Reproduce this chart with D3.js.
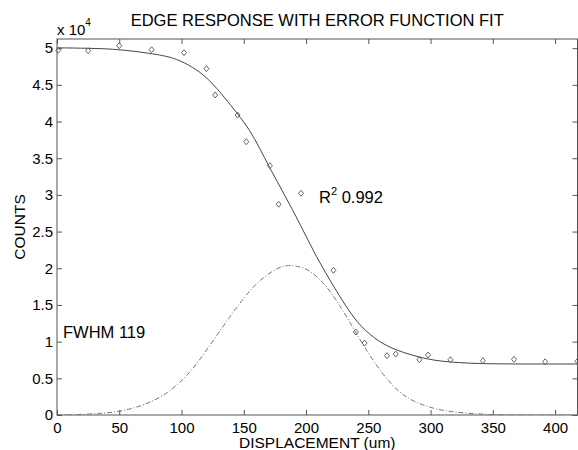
<!DOCTYPE html>
<html>
<head>
<meta charset="utf-8">
<script src="https://cdn.jsdelivr.net/npm/d3@7"></script>
<style>
    body { margin: 0; background: #fff; }
    text { font-family: "Liberation Sans", Arial, sans-serif; fill: #000; }
</style>
</head>
<body>
<div id="output"></div>
<script>
// Edge response data with erf fit and its derivative (gaussian)

// measured points (displacement um, counts)
var pointX = [1, 25, 50, 76, 102, 120, 127, 145, 152, 171, 178, 196, 222, 240, 247, 265, 272, 291, 298, 316, 342, 367, 392, 418]
var pointY = [49700, 49650, 50340, 49790, 49380, 47200, 43620, 40890, 37250, 33980, 28720, 30220, 19720, 11310, 9810, 8080, 8310, 7540, 8180, 7540, 7400, 7590, 7260, 7320]

// error function fit
var fitX = [0, 25, 50, 83, 96, 109, 120, 131, 145, 155, 163, 170, 182, 195, 208, 223, 238, 251, 267, 289, 307, 339, 370, 418]
var fitY = [50050, 49990, 49870, 49110, 48560, 47430, 46070, 44030, 41070, 38810, 36300, 33940, 30220, 26130, 21580, 17270, 13180, 10900, 9090, 7950, 7270, 6980, 6950, 6950]

// gaussian (derivative of fit)
var gaussX = [0, 27, 51, 67, 83, 99, 112, 125, 139, 150, 160, 174, 184, 194, 203, 216, 227, 238, 249, 262, 275, 289, 305, 320, 345, 370, 418]
var gaussY = [0, 95, 450, 1190, 2320, 4360, 6860, 10050, 13450, 15950, 17990, 19800, 20490, 20270, 19760, 17720, 14990, 11820, 8630, 5450, 2960, 1600, 750, 350, 50, 0, 0]

var xTicks = [0, 50, 100, 150, 200, 250, 300, 350, 400]
var yTicks = [0, 5000, 10000, 15000, 20000, 25000, 30000, 35000, 40000, 45000, 50000]

var titleText = 'EDGE RESPONSE WITH ERROR FUNCTION FIT'
var xLabel = 'DISPLACEMENT (um)'
var yLabel = 'COUNTS'
var r2Text = '0.992'
var fwhmText = 'FWHM 119'

var width = 578
var height = 450
var margin = {top: 39, right: 0.5, bottom: 35, left: 57}
var plotW = width - margin.left - margin.right
var plotH = height - margin.top - margin.bottom

var x = d3.scaleLinear().domain([0, 418]).range([0, plotW])
var y = d3.scaleLinear().domain([0, 51250]).range([plotH, 0])

var svg = d3.select('#output').append('svg')
    .attr('width', width)
    .attr('height', height)

svg.append('defs').append('clipPath')
    .attr('id', 'clip')
    .append('rect')
    .attr('width', plotW)
    .attr('height', plotH)

var g = svg.append('g')
    .attr('transform', 'translate(' + margin.left + ',' + margin.top + ')')

var axisColor = '#555'

// axes, ticks pointing inward like matlab
var xAxis = g.append('g')
    .attr('transform', 'translate(0,' + plotH + ')')
    .call(d3.axisBottom(x).tickValues(xTicks).tickSizeInner(-5).tickSizeOuter(0).tickPadding(7))
var xTop = g.append('g')
    .call(d3.axisTop(x).tickValues(xTicks).tickSizeInner(-5).tickSizeOuter(0).tickFormat(''))
var yAxis = g.append('g')
    .call(d3.axisLeft(y).tickValues(yTicks).tickSizeInner(-5).tickSizeOuter(0).tickPadding(4)
        .tickFormat(function(d) { return String(d / 10000) }))
var yRight = g.append('g')
    .attr('transform', 'translate(' + plotW + ',0)')
    .call(d3.axisRight(y).tickValues(yTicks).tickSizeInner(-5).tickSizeOuter(0).tickFormat(''))

g.selectAll('.domain').remove()
g.selectAll('.tick line').attr('stroke', axisColor)
g.selectAll('.tick text')
    .style('font-family', '"Liberation Sans", Arial, sans-serif')
    .style('font-size', '15px')
    .attr('fill', '#000')

g.append('rect')
    .attr('width', plotW)
    .attr('height', plotH)
    .attr('fill', 'none')
    .attr('stroke', axisColor)
    .attr('stroke-width', 1)

var plot = g.append('g').attr('clip-path', 'url(#clip)')

// gaussian, dash-dot
var gaussLine = d3.line()
    .x(function(d, i) { return x(gaussX[i]) })
    .y(function(d, i) { return y(gaussY[i]) })
    .curve(d3.curveBasis)
plot.append('path')
    .attr('d', gaussLine(gaussX))
    .attr('fill', 'none')
    .attr('stroke', '#777')
    .attr('stroke-width', 1)
    .attr('stroke-dasharray', '5,2,1,2')

// erf fit, solid
var fitLine = d3.line()
    .x(function(d, i) { return x(fitX[i]) })
    .y(function(d, i) { return y(fitY[i]) })
    .curve(d3.curveBasis)
plot.append('path')
    .attr('d', fitLine(fitX))
    .attr('fill', 'none')
    .attr('stroke', '#444')
    .attr('stroke-width', 1)

// data points as small diamonds
g.selectAll('.pt')
    .data(pointX)
    .enter().append('path')
    .attr('class', 'pt')
    .attr('transform', function(d, i) { return 'translate(' + x(d) + ',' + y(pointY[i]) + ')' })
    .attr('d', 'M0,-3L2.5,0L0,3L-2.5,0Z')
    .attr('fill', 'none')
    .attr('stroke', '#666')
    .attr('stroke-width', 1)

// title and labels
svg.append('text')
    .attr('x', margin.left + plotW / 2)
    .attr('y', 26)
    .attr('text-anchor', 'middle')
    .style('font-size', '16.5px')
    .text(titleText)

var expo = svg.append('text')
    .attr('x', 57)
    .attr('y', 35)
    .style('font-size', '15px')
expo.append('tspan').text('x 10')
expo.append('tspan').attr('dy', -9).style('font-size', '10px').text('4')

svg.append('text')
    .attr('x', margin.left + plotW / 2)
    .attr('y', 448)
    .attr('text-anchor', 'middle')
    .style('font-size', '15.5px')
    .text(xLabel)

svg.append('text')
    .attr('transform', 'translate(25,' + (margin.top + plotH / 2) + ') rotate(-90)')
    .attr('text-anchor', 'middle')
    .style('font-size', '15.5px')
    .text(yLabel)

var r2 = svg.append('text')
    .attr('x', 319)
    .attr('y', 203)
    .style('font-size', '16.5px')
r2.append('tspan').text('R')
r2.append('tspan').attr('dy', -8).style('font-size', '11px').text('2')
r2.append('tspan').attr('dy', 8).text(' ' + r2Text)

svg.append('text')
    .attr('x', 63)
    .attr('y', 338)
    .style('font-size', '16.5px')
    .text(fwhmText)
</script>
</body>
</html>
